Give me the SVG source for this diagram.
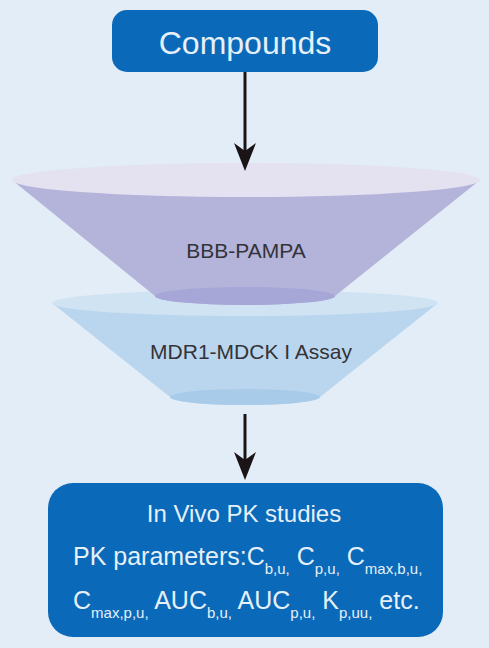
<svg xmlns="http://www.w3.org/2000/svg" width="489" height="648" viewBox="0 0 489 648">
<defs>
<marker id="ah" markerWidth="28" markerHeight="22" refX="22" refY="11" orient="auto" markerUnits="userSpaceOnUse" viewBox="0 0 28 22">
<path d="M0,0 L28,11 L0,22 L8,11 Z" fill="#1a1416"/>
</marker>
<style>
.box{fill:#0a69b8}
.wt{fill:#e6f0f8;font-family:"Liberation Sans",Arial,sans-serif}
.ft{fill:#333338;font-family:"Liberation Sans",Arial,sans-serif;font-size:21px;text-anchor:middle}
.sub{font-size:15px}
.conn{stroke:#1a1416;stroke-width:3;fill:none}
</style>
</defs>
<rect width="489" height="648" fill="#e2edf7"/>
<g id="compounds">
<rect class="box" x="112" y="10" width="266" height="62" rx="15"/>
<text class="wt" x="245" y="54" font-size="32" text-anchor="middle">Compounds</text>
</g>
<g id="mdr1-mdck">
<path d="M52,303 L170,397 A75,8 0 0 0 320,397 L438,303 Z" fill="#bad6ee"/>
<ellipse cx="245" cy="303" rx="193" ry="13" fill="#cfe3f3"/>
<ellipse cx="245" cy="397" rx="75" ry="8" fill="#a9cbea"/>
<text class="ft" x="251" y="359">MDR1-MDCK I Assay</text>
</g>
<g id="bbb-pampa">
<path d="M12,180 L155,296 A90,9 0 0 0 335,296 L480,180 Z" fill="#b4b3da"/>
<ellipse cx="246" cy="180" rx="234" ry="17" fill="#e4e1f0"/>
<ellipse cx="245" cy="296" rx="90" ry="9" fill="#a6a6d7"/>
<text class="ft" x="246" y="258">BBB-PAMPA</text>
</g>
<g id="invivo">
<rect class="box" x="48" y="483" width="395" height="154" rx="25"/>
<text class="wt" x="244" y="522" font-size="24" text-anchor="middle">In Vivo PK studies</text>
<text class="wt" x="73" y="565" font-size="25">PK parameters:C<tspan class="sub" dy="9">b,u,</tspan><tspan dy="-9"> C</tspan><tspan class="sub" dy="9">p,u,</tspan><tspan dy="-9"> C</tspan><tspan class="sub" dy="9">max,b,u,</tspan></text>
<text class="wt" x="73" y="609" font-size="25">C<tspan class="sub" dy="9">max,p,u,</tspan><tspan dy="-9"> AUC</tspan><tspan class="sub" dy="9">b,u,</tspan><tspan dy="-9"> AUC</tspan><tspan class="sub" dy="9">p,u,</tspan><tspan dy="-9"> K</tspan><tspan class="sub" dy="9">p,uu,</tspan><tspan dy="-9"> etc.</tspan></text>
</g>
<g id="connectors">
<line class="conn" x1="245" y1="72" x2="245" y2="165" marker-end="url(#ah)"/>
<line class="conn" x1="245" y1="414" x2="245" y2="474" marker-end="url(#ah)"/>
</g>
</svg>
